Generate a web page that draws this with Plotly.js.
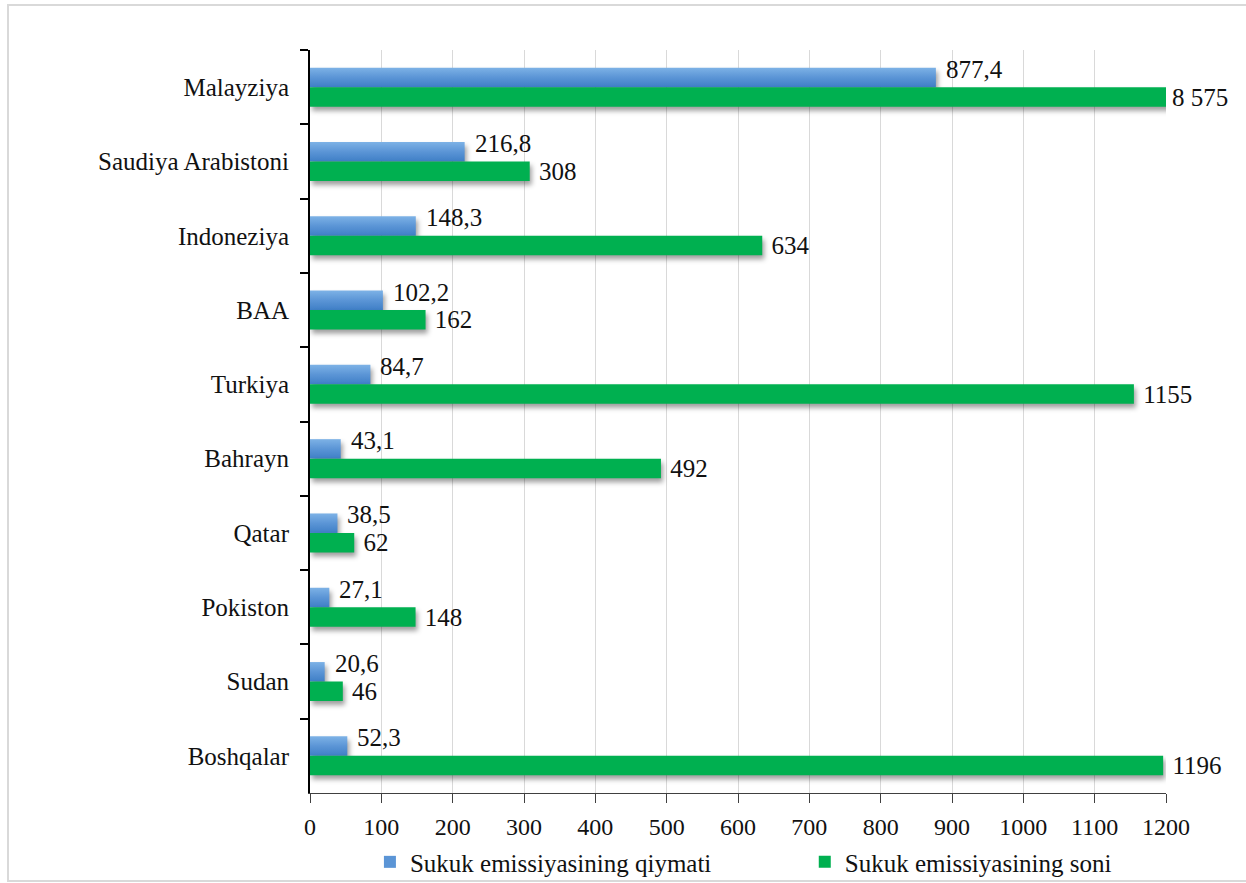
<!DOCTYPE html>
<html>
<head>
<meta charset="utf-8">
<script src="https://cdn.plot.ly/plotly-3.0.1.min.js"></script>
<style>
  html, body { margin: 0; padding: 0; background: #ffffff; overflow: hidden; }
  #frame {
    position: absolute; left: 7px; top: 4px; width: 1260px; height: 874px;
    border-left: 2px solid #d9d9d9; border-top: 2px solid #d9d9d9; border-bottom: 2px solid #d9d9d9;
  }
  #chart { position: absolute; left: 0; top: 0; width: 1246px; height: 883px; }
  .barlayer .trace .point path {
    filter: drop-shadow(2px 4px 2.5px rgba(0, 0, 0, 0.38));
  }
  .barlayer .trace:first-child .point path { fill: url(#blueFill) !important; }
</style>
</head>
<body>
<div id="frame"></div>
<div id="chart"></div>
<script>
// Sukuk issuance by country: value (blue) and number of issues (green)
const countries = ['Malayziya', 'Saudiya Arabistoni', 'Indoneziya', 'BAA', 'Turkiya',
                   'Bahrayn', 'Qatar', 'Pokiston', 'Sudan', 'Boshqalar'];
const issueValue = [877.4, 216.8, 148.3, 102.2, 84.7, 43.1, 38.5, 27.1, 20.6, 52.3];
const issueCount = [8575, 308, 634, 162, 1155, 492, 62, 148, 46, 1196];
const seriesNames = ['Sukuk emissiyasining qiymati', 'Sukuk emissiyasining soni'];
const xTicks = [0, 100, 200, 300, 400, 500, 600, 700, 800, 900, 1000, 1100, 1200];
const X_MAX = 1200;

const SERIF = 'Liberation Serif';
const LABEL_FONT = { family: SERIF, size: 25, color: '#111111' };
const pad = '\u00a0';

const countText = issueCount.map(v => v > X_MAX ? '' : pad + String(v));
const decimalComma = v => v.toFixed(1).replace('.', ',');
const groupThousands = v => String(v).replace(/\B(?=(\d{3})+(?!\d))/g, ' ');

const traces = [
  {
    type: 'bar', orientation: 'h', name: seriesNames[0], legend: 'legend',
    y: countries, x: issueValue,
    marker: { color: '#5b95d6' },
    hoverinfo: 'x+y'
  },
  {
    type: 'bar', orientation: 'h', name: seriesNames[1], legend: 'legend2',
    y: countries, x: issueCount,
    marker: { color: '#00b050' },
    text: countText, textposition: 'outside', constraintext: 'none', cliponaxis: false,
    textfont: LABEL_FONT,
    hoverinfo: 'x+y'
  }
];

// value labels sit just right of the blue bars, raised a little above them
const notes = issueValue.map((v, i) => ({
  x: v, y: countries[i], xref: 'x', yref: 'y',
  text: decimalComma(v), showarrow: false,
  xanchor: 'left', yanchor: 'middle', xshift: 8, yshift: 18,
  font: LABEL_FONT
}));

// labels for bars running past the axis end sit at the axis end
issueCount.forEach((v, i) => {
  if (v > X_MAX) {
    notes.push({
      x: Math.min(v, X_MAX), y: countries[i], xref: 'x', yref: 'y',
      text: groupThousands(v), showarrow: false,
      xanchor: 'left', yanchor: 'middle', xshift: 4, yshift: -10,
      font: LABEL_FONT
    });
  }
});

const legendBase = {
  orientation: 'h', xanchor: 'left', y: -0.093, yanchor: 'middle',
  font: { family: SERIF, size: 25, color: '#111111' },
  bgcolor: 'rgba(0,0,0,0)'
};

const layout = {
  width: 1246, height: 883,
  margin: { l: 310, r: 80, t: 50, b: 90, autoexpand: false },
  paper_bgcolor: 'rgba(0,0,0,0)', plot_bgcolor: 'rgba(0,0,0,0)',
  barmode: 'group', bargap: 0.475, bargroupgap: 0,
  font: { family: SERIF, size: 25, color: '#111111' },
  showlegend: true,
  legend: Object.assign({}, legendBase, { x: 0.07 }),
  legend2: Object.assign({}, legendBase, { x: 0.578 }),
  xaxis: {
    range: [0, X_MAX], tickvals: xTicks, ticktext: xTicks.map(String),
    showgrid: true, gridcolor: '#d9d9d9', gridwidth: 1,
    showline: true, linecolor: '#404040', linewidth: 1,
    ticks: 'outside', ticklen: 9, tickcolor: '#404040', tickwidth: 1,
    ticklabelstandoff: 3,
    tickfont: { family: SERIF, size: 24, color: '#111111' },
    zeroline: false, fixedrange: true
  },
  yaxis: {
    type: 'category', autorange: 'reversed', tickson: 'boundaries',
    showgrid: false, showline: true, linecolor: '#000000', linewidth: 2,
    ticks: 'outside', ticklen: 8, tickcolor: '#000000', tickwidth: 2,
    ticklabelstandoff: 14,
    tickfont: { family: SERIF, size: 25, color: '#111111' },
    fixedrange: true
  },
  annotations: notes
};

Plotly.newPlot('chart', traces, layout, { displayModeBar: false, staticPlot: true }).then(gd => {
  // vertical light-to-deep blue fill for the value bars
  const svg = gd.querySelector('.main-svg');
  const ns = 'http://www.w3.org/2000/svg';
  const defs = document.createElementNS(ns, 'defs');
  const grad = document.createElementNS(ns, 'linearGradient');
  grad.setAttribute('id', 'blueFill');
  grad.setAttribute('x1', '0'); grad.setAttribute('y1', '0');
  grad.setAttribute('x2', '0'); grad.setAttribute('y2', '1');
  [['0', '#7db2e6'], ['0.5', '#5b95d6'], ['1', '#3f7fc6']].forEach(([o, c]) => {
    const s = document.createElementNS(ns, 'stop');
    s.setAttribute('offset', o); s.setAttribute('stop-color', c);
    grad.appendChild(s);
  });
  defs.appendChild(grad);
  svg.insertBefore(defs, svg.firstChild);
});
</script>
</body>
</html>
